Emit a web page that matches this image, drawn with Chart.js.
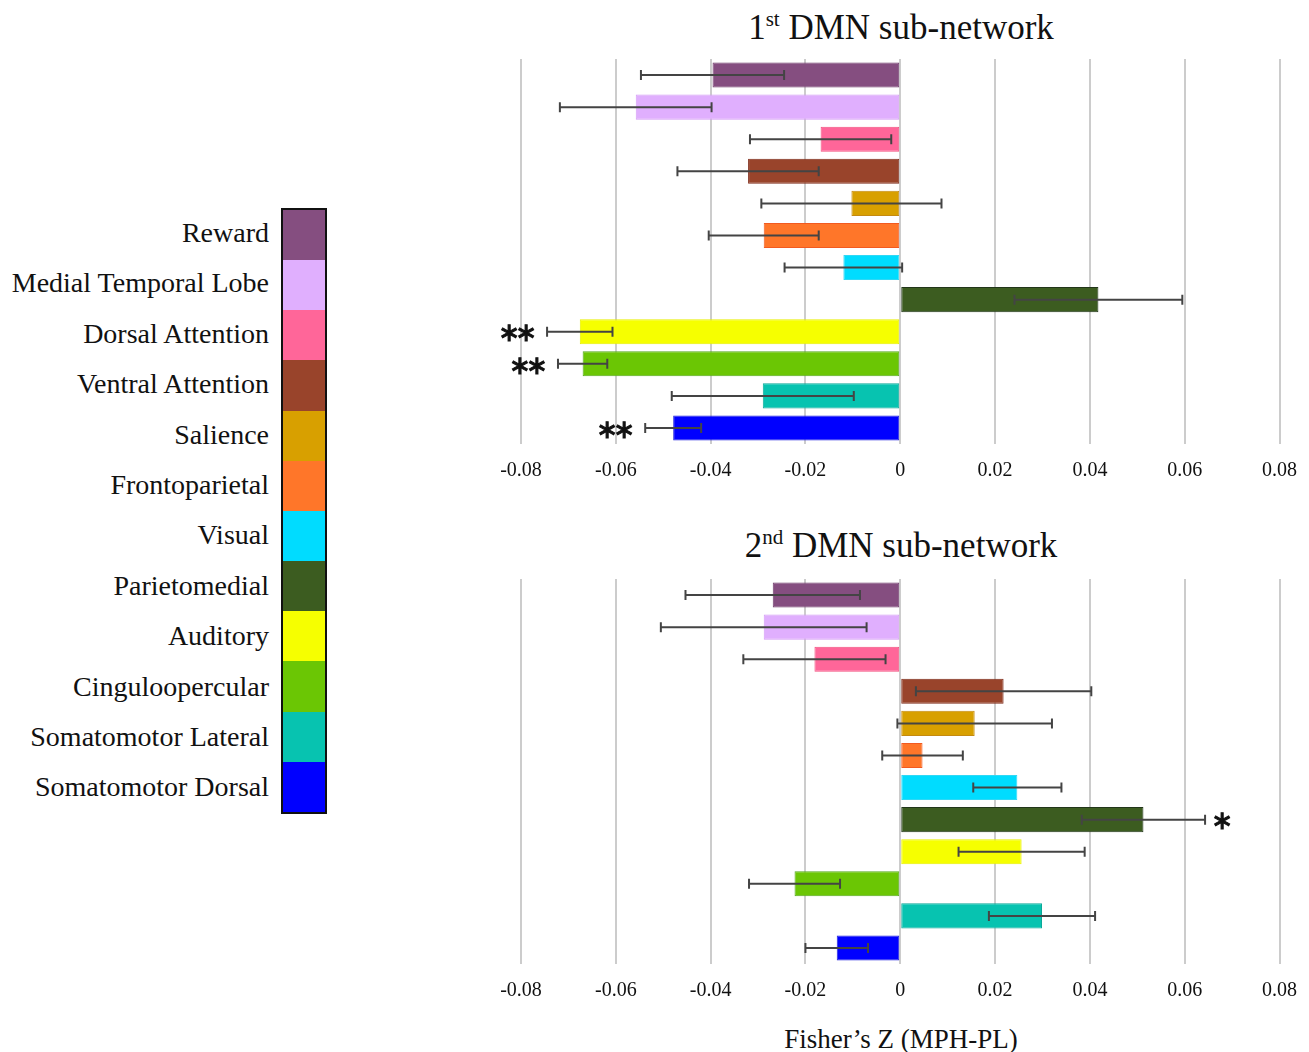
<!DOCTYPE html>
<html lang="en">
<head>
    <meta charset="UTF-8">
    <title>DMN sub-networks</title>
    <script src="https://cdn.jsdelivr.net/npm/chart.js"></script>
    <style>
        body {
            margin: 0;
            background: #fff;
            font-family: "Liberation Serif", "Times New Roman", serif;
            width: 1309px;
            height: 1052px;
            position: relative;
            overflow: hidden;
        }
        .title {
            position: absolute;
            left: 600px;
            width: 602px;
            text-align: center;
            font-size: 35px;
            color: #111;
            line-height: 40px;
        }
        .title sup {
            font-size: 21px;
            line-height: 0;
        }
        .chart-box {
            position: absolute;
            left: 480px;
            width: 832px;
            height: 454px;
        }
        #legend-labels {
            position: absolute;
            left: 0;
            top: 208px;
            width: 269px;
            text-align: right;
            font-size: 28px;
            color: #111;
        }
        #legend-labels div {
            height: 50.4px;
            line-height: 50.4px;
            white-space: nowrap;
        }
        #legend-swatches {
            position: absolute;
            left: 281px;
            top: 208px;
            width: 46px;
            height: 606px;
            border: 2px solid #111;
            box-sizing: border-box;
        }
        #legend-swatches div {
            height: 50.17px;
        }
        #x-title {
            position: absolute;
            left: 600px;
            width: 602px;
            top: 1024px;
            text-align: center;
            font-size: 27px;
            color: #111;
        }
    </style>
</head>
<body>
    <div id="legend-labels"></div>
    <div id="legend-swatches"></div>

    <div class="title" style="top: 8px;">1<sup>st</sup> DMN sub-network</div>
    <div class="chart-box" style="top: 50px;"><canvas id="chart1"></canvas></div>

    <div class="title" style="top: 526px;">2<sup>nd</sup> DMN sub-network</div>
    <div class="chart-box" style="top: 570px;"><canvas id="chart2"></canvas></div>

    <div id="x-title">Fisher’s Z (MPH-PL)</div>

    <script>
        const categories = ['Reward', 'Medial Temporal Lobe', 'Dorsal Attention', 'Ventral Attention', 'Salience',
            'Frontoparietal', 'Visual', 'Parietomedial', 'Auditory', 'Cinguloopercular',
            'Somatomotor Lateral', 'Somatomotor Dorsal'];
        const colors = ['#854e80', '#e0affe', '#ff6699', '#99442b', '#d8a000', '#ff7629',
            '#00dcff', '#3c5c20', '#f6ff00', '#6bc604', '#07c3b0', '#0000ff'];
        const borderColors = ['#6e3a6a', '#d49cf5', '#f2507f', '#7e2a18', '#c48a10', '#f25a20',
            '#2fd8f5', '#22361a', '#e8f000', '#55a81c', '#0aa898', '#2222dd'];

        const xTicks = [-0.08, -0.06, -0.04, -0.02, 0, 0.02, 0.04, 0.06, 0.08];

        // 1st DMN sub-network
        const dmn1Values = [-0.0396, -0.0558, -0.0168, -0.0321, -0.0103, -0.0288, -0.0120, 0.0418, -0.0676, -0.0670, -0.0290, -0.0479];
        const dmn1Errors = [0.0151, 0.0160, 0.0149, 0.0149, 0.0190, 0.0116, 0.0124, 0.0177, 0.0069, 0.0052, 0.0192, 0.0059];
        const dmn1Stars = ['', '', '', '', '', '', '', '', '**', '**', '', '**'];

        // 2nd DMN sub-network
        const dmn2Values = [-0.0269, -0.0288, -0.0181, 0.0218, 0.0157, 0.0047, 0.0247, 0.0513, 0.0256, -0.0223, 0.0299, -0.0134];
        const dmn2Errors = [0.0184, 0.0217, 0.0150, 0.0185, 0.0163, 0.0085, 0.0093, 0.0130, 0.0133, 0.0096, 0.0112, 0.0066];
        const dmn2Stars = ['', '', '', '', '', '', '', '*', '', '', '', ''];

        // legend on the left
        const labelBox = document.getElementById('legend-labels');
        const swatchBox = document.getElementById('legend-swatches');
        categories.forEach((name, i) => {
            const lab = document.createElement('div');
            lab.textContent = name;
            labelBox.appendChild(lab);
            const sw = document.createElement('div');
            sw.style.background = colors[i];
            swatchBox.appendChild(sw);
        });

        // error bars + significance stars
        const errorBarPlugin = {
            id: 'errorBars',
            afterDatasetsDraw(chart, args, opts) {
                const ctx = chart.ctx;
                const xs = chart.scales.x;
                const meta = chart.getDatasetMeta(0);
                ctx.save();
                meta.data.forEach((bar, i) => {
                    const v = opts.values[i];
                    const e = opts.errors[i];
                    const lo = xs.getPixelForValue(v - e);
                    const hi = xs.getPixelForValue(v + e);
                    const y = bar.y;
                    ctx.strokeStyle = '#444';
                    ctx.lineWidth = 2;
                    ctx.beginPath();
                    ctx.moveTo(lo, y); ctx.lineTo(hi, y);
                    ctx.moveTo(lo, y - 5); ctx.lineTo(lo, y + 5);
                    ctx.moveTo(hi, y - 5); ctx.lineTo(hi, y + 5);
                    ctx.stroke();

                    const s = opts.stars[i];
                    if (s) {
                        ctx.fillStyle = '#111';
                        ctx.strokeStyle = '#111';
                        ctx.lineWidth = 1;
                        ctx.font = '26px "DejaVu Sans", sans-serif';
                        ctx.textBaseline = 'middle';
                        ctx.textAlign = 'center';
                        const step = 17;
                        for (let k = 0; k < s.length; k++) {
                            let cx;
                            if (v < 0) cx = lo - 21 - (s.length - 1 - k) * step;
                            else cx = hi + 17 + k * step;
                            ctx.fillText('\u2217', cx, y + 3);
                            ctx.strokeText('\u2217', cx, y + 3);
                        }
                    }
                });
                ctx.restore();
            }
        };

        function makeChart(id, values, errors, stars) {
            return new Chart(document.getElementById(id), {
                type: 'bar',
                data: {
                    labels: categories,
                    datasets: [{
                        data: values,
                        backgroundColor: colors,
                        borderColor: borderColors,
                        borderWidth: 1,
                        borderSkipped: false,
                        barPercentage: 0.78,
                        categoryPercentage: 1
                    }]
                },
                options: {
                    indexAxis: 'y',
                    responsive: true,
                    maintainAspectRatio: false,
                    animation: false,
                    layout: {
                        padding: { left: 41, right: 29, top: 9, bottom: 6 }
                    },
                    plugins: {
                        legend: { display: false },
                        tooltip: { enabled: false },
                        errorBars: { values: values, errors: errors, stars: stars }
                    },
                    scales: {
                        y: { display: false },
                        x: {
                            min: -0.08,
                            max: 0.08,
                            afterBuildTicks: (axis) => {
                                axis.ticks = xTicks.map(v => ({ value: v }));
                            },
                            grid: {
                                color: '#cccccc',
                                lineWidth: 2,
                                drawTicks: false
                            },
                            border: { display: false },
                            ticks: {
                                padding: 15,
                                color: '#111',
                                font: { family: '"Liberation Serif", "Times New Roman", serif', size: 20 },
                                callback: (v) => v === 0 ? '0' : v.toFixed(2)
                            }
                        }
                    }
                },
                plugins: [errorBarPlugin]
            });
        }

        makeChart('chart1', dmn1Values, dmn1Errors, dmn1Stars);
        makeChart('chart2', dmn2Values, dmn2Errors, dmn2Stars);
    </script>
</body>
</html>
